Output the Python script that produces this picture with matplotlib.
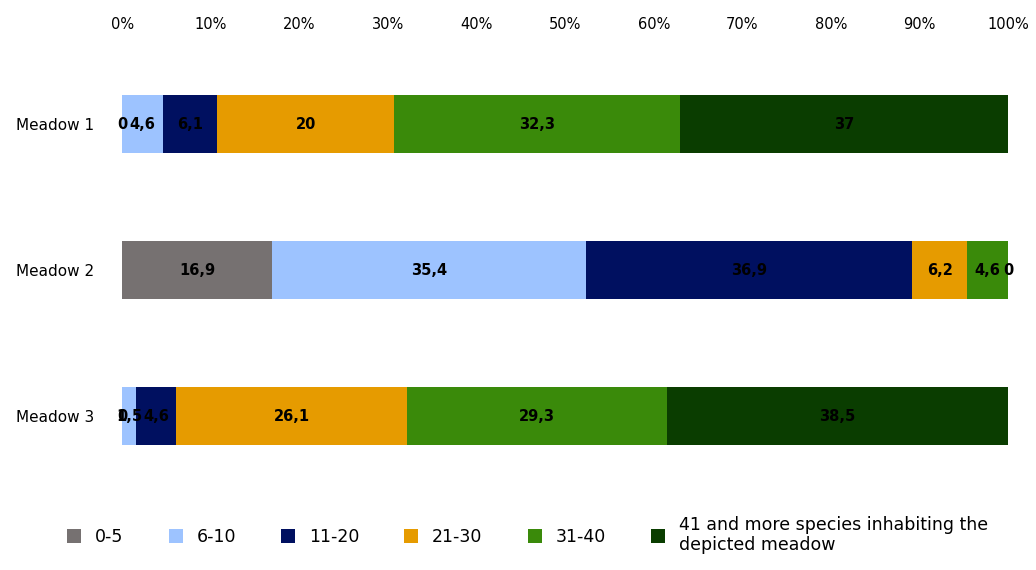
import matplotlib.pyplot as plt
import numpy as np

meadows = ["Meadow 1", "Meadow 2", "Meadow 3"]
classes = ["0-5", "6-10", "11-20", "21-30", "31-40",
           "41 and more species inhabiting the\ndepicted meadow"]
v_0_5 = [0, 16.9, 0]
v_6_10 = [4.6, 35.4, 1.5]
v_11_20 = [6.1, 36.9, 4.6]
v_21_30 = [20, 6.2, 26.1]
v_31_40 = [32.3, 4.6, 29.3]
v_41 = [37, 0, 38.5]
series = [v_0_5, v_6_10, v_11_20, v_21_30, v_31_40, v_41]
colors = ["#767171", "#9DC3FF", "#001060", "#E69B00", "#3A8A0A", "#0A3D00"]

fig = plt.figure(figsize=(10.36, 5.7), dpi=100)
ax = fig.add_axes([0.118, 0.142, 0.855, 0.768])

y = np.arange(len(meadows))
left = np.zeros(len(meadows))
for vals, c, lab in zip(series, colors, classes):
    vals = np.array(vals)
    ax.barh(y, vals, left=left, height=0.4, color=c, label=lab)
    for yi, l, v in zip(y, left, vals):
        txt = ("%g" % v).replace(".", ",")
        ax.text(l + v / 2, yi, txt, ha="center", va="center",
                fontsize=10.5, fontweight="bold", color="black")
    left += vals

ax.set_xlim(0, 100)
ax.set_ylim(2.5, -0.5)
ax.set_yticks(y)
ax.set_yticklabels(meadows, fontsize=11)
ax.set_xticks(range(0, 101, 10))
ax.set_xticklabels([f"{i}%" for i in range(0, 101, 10)], fontsize=10.5)
ax.xaxis.tick_top()
ax.tick_params(length=0, pad=14)
ax.tick_params(axis="y", pad=20)
for s in ax.spines.values():
    s.set_visible(False)

fig.legend(loc="lower left", bbox_to_anchor=(0.05, 0.0), ncol=6, frameon=False,
           fontsize=12.5, handlelength=0.8, handleheight=0.8, columnspacing=2.6)
fig.savefig("out.png", dpi=100)
